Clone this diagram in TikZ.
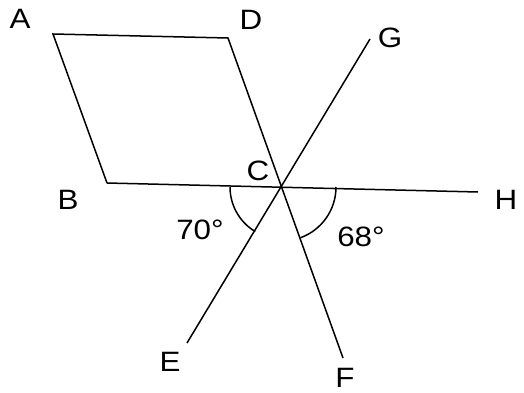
\documentclass[tikz,border=0pt]{standalone}
\usepackage{fontspec}
\setmainfont{Liberation Sans}

\begin{document}
\begin{tikzpicture}[x=1pt,y=1pt,line width=1.5pt,lbl/.style={font=\fontsize{28}{32}\selectfont,inner sep=0pt,xscale=1.12,transform shape}]
\useasboundingbox (0,0) rectangle (524,392);
% points
\coordinate (A) at (53,358);
\coordinate (D) at (228,354);
\coordinate (B) at (107,209);
\coordinate (C) at (282,205);
\coordinate (H) at (478,200);
\coordinate (G) at (370,353);
\coordinate (E) at (187,49);
\coordinate (F) at (343,34);
% lines
\draw (B)--(A)--(D)--(F);
\draw (B)--(H);
\draw (G)--(E);
\draw (C) ++(180:52) arc[start angle=180,end angle=239,radius=52];
\draw (C) ++(0:54) arc[start angle=0,end angle=-70,radius=54];
% labels
\node[lbl] (la) at (20,373) {A};
\node[lbl] (ld) at (251,372) {D};
\node[lbl] (lb) at (68,192) {B};
\node[lbl] (lc) at (258,221) {C};
\node[lbl] (lh) at (506,192) {H};
\node[lbl] (lg) at (390,354) {G};
\node[lbl] (le) at (170,30) {E};
\node[lbl] (lf) at (345,14) {F};
\node[lbl] (l70) at (200,162) {70°};
\node[lbl] (l68) at (361,155) {68°};
\end{tikzpicture}
\end{document}
